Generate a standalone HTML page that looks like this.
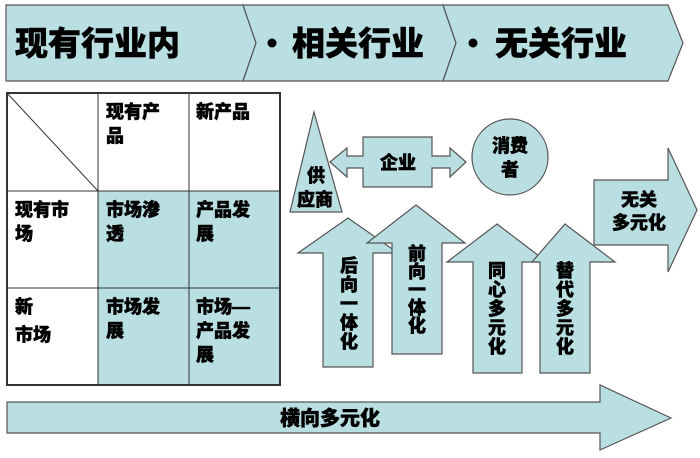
<!DOCTYPE html>
<html><head><meta charset="utf-8"><style>
html,body{margin:0;padding:0;background:#fff;}
svg{display:block;}
text{font-family:"Liberation Sans","Noto Sans CJK SC",sans-serif;font-weight:900;fill:#000;stroke:#000;stroke-width:0.5;}
</style></head><body>
<svg width="700" height="458" viewBox="0 0 700 458" xmlns="http://www.w3.org/2000/svg">
<g fill="#b9dfe2" stroke="#555" stroke-width="1.2">
<polygon points="6,5 243,5 256,43 243,81 6,81"/>
<polygon points="243,5 443,5 456,43 443,81 243,81 256,43"/>
<polygon points="443,5 668,5 683,43 668,81 443,81 456,43"/>
</g>
<text x="15" y="55" font-size="33" stroke-width="0.9">现有行业内</text>
<circle cx="272" cy="43" r="4.5" fill="#000"/>
<text x="292" y="55" font-size="33" stroke-width="0.9">相关行业</text>
<circle cx="473" cy="43" r="4.5" fill="#000"/>
<text x="495" y="55" font-size="33" stroke-width="0.9">无关行业</text>

<!-- table -->
<rect x="98" y="191" width="182" height="194" fill="#b9dfe2"/>
<g stroke="#333" stroke-width="1" fill="none">
<rect x="7" y="93" width="273" height="292" stroke-width="2"/>
<line x1="98" y1="93" x2="98" y2="385"/>
<line x1="189" y1="93" x2="189" y2="385"/>
<line x1="7" y1="191" x2="280" y2="191"/>
<line x1="7" y1="288" x2="280" y2="288"/>
<line x1="7" y1="93" x2="98" y2="191"/>
</g>
<g font-size="18">
<text x="106" y="118">现有产</text><text x="106" y="142">品</text>
<text x="196" y="118">新产品</text>
<text x="15" y="216">现有市</text><text x="15" y="240">场</text>
<text x="106" y="216">市场渗</text><text x="106" y="240">透</text>
<text x="196" y="216">产品发</text><text x="196" y="240">展</text>
<text x="15" y="313">新</text><text x="15" y="341">市场</text>
<text x="106" y="313">市场发</text><text x="106" y="337">展</text>
<text x="196" y="313">市场—</text><text x="196" y="337">产品发</text><text x="196" y="361">展</text>
</g>

<g fill="#b9dfe2" stroke="#555" stroke-width="1.2">
<polygon points="314,112 342,212 290,212"/>
<polygon points="330,162 347,148 347,156 363,156 363,137 432,137 432,156 450,156 450,148 466,162 450,177 450,168 432,168 432,187 363,187 363,168 347,168 347,177"/>
<circle cx="510" cy="157" r="38"/>
<polygon points="594,180 668,180 668,148 697,210 668,272 668,245 594,245"/>
<polygon points="348,218 398,253 373,253 373,367 323,367 323,253 298,253"/>
<polygon points="416,205 465,243 442,243 442,354 392,354 392,243 367,243"/>
<polygon points="497,224 547,262 522,262 522,373 473,373 473,262 447,262"/>
<polygon points="565,224 615,262 590,262 590,373 540,373 540,262 532,262"/>
<polygon points="7,402 600,402 600,385 671,418 600,450 600,433 7,433"/>
</g>
<g font-size="18" text-anchor="middle">
<text x="316" y="182">供</text><text x="315" y="206">应商</text>
<text x="398" y="169">企业</text>
<text x="510" y="152">消费</text><text x="510" y="176">者</text>
<text x="639" y="206">无关</text><text x="639" y="229">多元化</text>
</g>
<g font-size="18" text-anchor="middle">
<text x="349" y="272">后</text><text x="349" y="291">向</text><text x="349" y="310">一</text><text x="349" y="329">体</text><text x="349" y="348">化</text>
<text x="417" y="260">前</text><text x="417" y="278">向</text><text x="417" y="296">一</text><text x="417" y="314">体</text><text x="417" y="332">化</text>
<text x="497" y="277">同</text><text x="497" y="296">心</text><text x="497" y="315">多</text><text x="497" y="334">元</text><text x="497" y="353">化</text>
<text x="565" y="277">替</text><text x="565" y="296">代</text><text x="565" y="315">多</text><text x="565" y="334">元</text><text x="565" y="353">化</text>
</g>
<text x="330" y="425" font-size="20" text-anchor="middle">横向多元化</text>
</svg>
</body></html>
